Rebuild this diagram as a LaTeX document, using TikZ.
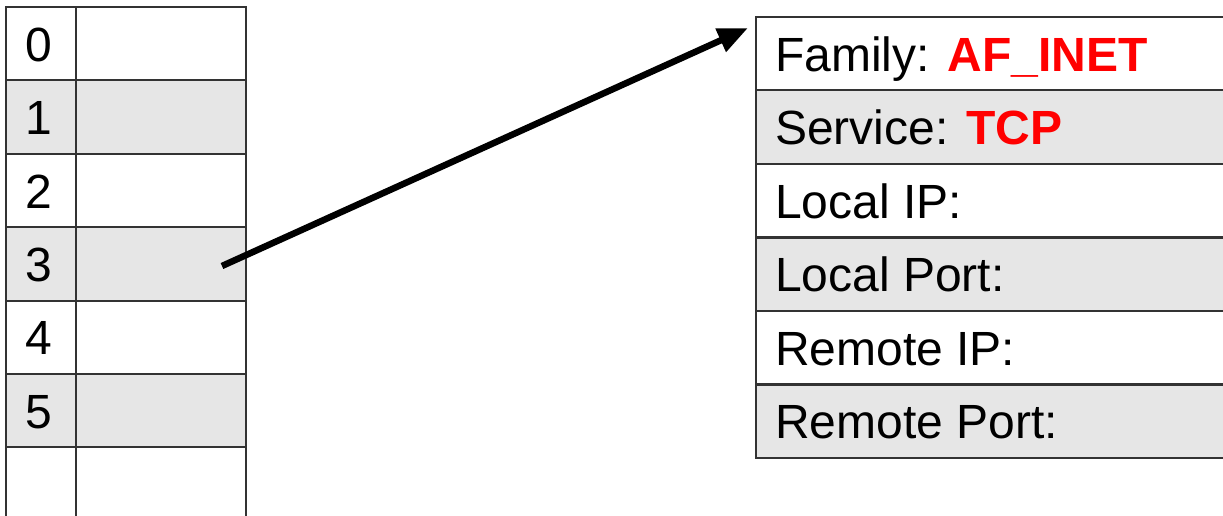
\documentclass[tikz,border=0pt]{standalone}
\usepackage{fontspec}
\setmainfont{Liberation Sans}
\usepackage{xcolor}
\definecolor{cellgray}{HTML}{E6E6E6}
\definecolor{gridline}{HTML}{333333}
\definecolor{fieldred}{HTML}{FF0000}
\usepackage{tikz}
\usetikzlibrary{
  arrows.meta,
  positioning
}
\tikzset{
  cell/.style={draw=gridline, line width=2pt, anchor=north west,
    outer sep=0pt, inner xsep=19pt, inner ysep=0pt, minimum height=73.4pt,
    text height=35pt, text depth=0pt, align=flush left,
    font=\fontsize{48}{56}\selectfont},
  idxcell/.style={cell, minimum width=70pt, text width=32pt},
  valcell/.style={cell, minimum width=170pt},
  fieldcell/.style={cell, minimum width=490pt, text width=452pt},
  ptr/.style={-{Triangle[length=30pt, width=24pt]}, line width=6.5pt},
}
\newcommand{\fval}[1]{\textcolor{fieldred}{\textbf{#1}}}

\begin{document}
\begin{tikzpicture}[x=1pt, y=-1pt]
  \clip (0,0) rectangle (1223,516);

  % Descriptor table
  \foreach \i/\shade in {0/white,1/cellgray,2/white,3/cellgray,4/white,5/cellgray,6/white} {
    \node[idxcell, fill=\shade] (idx\i) at (6, 7+73.4*\i)
      {\ifnum\i<6 \i\fi};
    \node[valcell, fill=\shade] (val\i) at (idx\i.north east) {};
  }

  % Socket structure
  \foreach \i/\txt/\shade in {
      0/{Family: \fval{AF\_INET}}/white,
      1/{Service: \fval{TCP}}/cellgray,
      2/{Local IP:}/white,
      3/{Local Port:}/cellgray,
      4/{Remote IP:}/white,
      5/{Remote Port:}/cellgray} {
    \node[fieldcell, fill=\shade] (fld\i) at (756, 17+73.5*\i) {\txt};
  }

  % Pointer
  \coordinate (ptrtail) at (222,266);
  \coordinate (ptrhead) at (748,28);
  \draw[ptr] (ptrtail) -- (ptrhead);
\end{tikzpicture}
\end{document}
